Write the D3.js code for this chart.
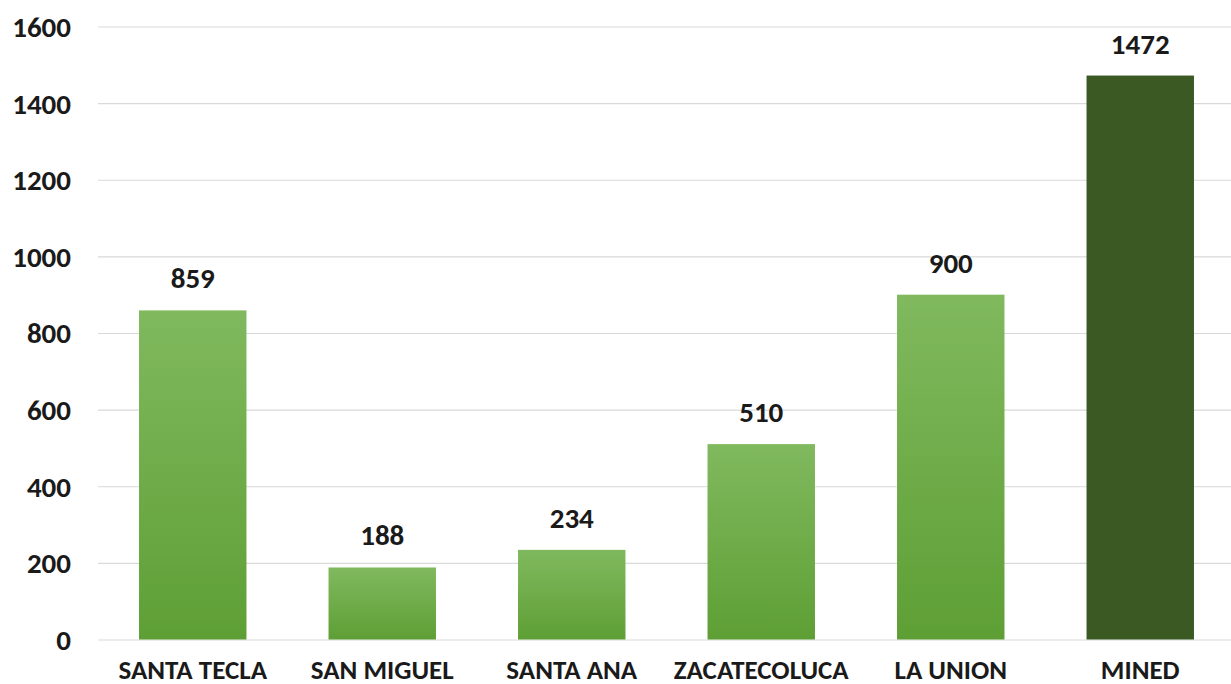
<!DOCTYPE html>
<html>
<head>
<meta charset="utf-8">
<script src="https://cdn.jsdelivr.net/npm/d3@7"></script>
<style>
  body { margin: 0; background: #fff; }
  svg { display: block; }
</style>
</head>
<body>
<div id="chart"></div>
<script>
// data
var sedes = ["SANTA TECLA", "SAN MIGUEL", "SANTA ANA", "ZACATECOLUCA", "LA UNION", "MINED"];
var totales = [859, 188, 234, 510, 900, 1472];
var yTicks = [0, 200, 400, 600, 800, 1000, 1200, 1400, 1600];

var W = 1231, H = 684;
var margin = { top: 26.5, right: -4, bottom: 44.5, left: 98 };
var width = W - margin.left - margin.right,
    height = H - margin.top - margin.bottom;

var svg = d3.select("#chart")
    .append("svg")
    .attr("width", W)
    .attr("height", H);

var defs = svg.append("defs");
var grad = defs.append("linearGradient")
    .attr("id", "barGrad")
    .attr("x1", 0).attr("y1", 0).attr("x2", 0).attr("y2", 1);
grad.append("stop").attr("offset", "0%").attr("stop-color", "#80b95e");
grad.append("stop").attr("offset", "100%").attr("stop-color", "#5e9f35");

var g = svg.append("g")
    .attr("transform", "translate(" + margin.left + "," + margin.top + ")");

var x = d3.scaleBand()
    .domain(sedes)
    .range([0, width])
    .padding(0);

var y = d3.scaleLinear()
    .domain([0, 1600])
    .range([height, 0]);

var numFont = "'Carlito', 'Liberation Sans', Arial, sans-serif";
var catFont = "'Carlito', 'Liberation Sans Narrow', 'Liberation Sans', Arial, sans-serif";

// gridlines
g.append("g")
    .attr("class", "grid")
    .call(d3.axisLeft(y).tickValues(yTicks).tickSize(-(W - margin.left)).tickFormat(""))
    .call(function (s) { s.select(".domain").remove(); })
    .selectAll("line")
    .attr("stroke", "#d9d9d9")
    .attr("stroke-width", 1.2);

// y axis labels
var yAxis = g.append("g")
    .call(d3.axisLeft(y).tickValues(yTicks).tickSize(0).tickPadding(27).tickFormat(d3.format("d")));
yAxis.select(".domain").remove();
yAxis.selectAll("text")
    .attr("fill", "#1a1a1a")
    .attr("dy", "0.34em")
    .style("font-family", numFont)
    .style("font-weight", "bold")
    .style("font-size", "29px");

// x axis labels
var xAxis = g.append("g")
    .attr("transform", "translate(0," + height + ")")
    .call(d3.axisBottom(x).tickSize(0));
xAxis.select(".domain").remove();
xAxis.selectAll("text")
    .attr("y", 39)
    .attr("dy", 0)
    .attr("fill", "#1a1a1a")
    .style("font-family", catFont)
    .style("font-weight", "bold")
    .style("font-size", "27px");

// bars
var barW = x.bandwidth() * 0.567;
var data = sedes.map(function (s, i) { return { sede: s, total: totales[i] }; });

g.selectAll(".bar")
    .data(data)
    .enter()
    .append("rect")
    .attr("class", "bar")
    .attr("x", function (d) { return x(d.sede) + (x.bandwidth() - barW) / 2; })
    .attr("y", function (d) { return y(d.total); })
    .attr("width", barW)
    .attr("height", function (d) { return height - y(d.total); })
    .attr("fill", function (d) { return d.sede === "MINED" ? "#3b5a23" : "url(#barGrad)"; });

// value labels
g.selectAll(".lbl")
    .data(data)
    .enter()
    .append("text")
    .attr("class", "lbl")
    .attr("x", function (d) { return x(d.sede) + x.bandwidth() / 2; })
    .attr("y", function (d) { return y(d.total) - 22; })
    .attr("text-anchor", "middle")
    .attr("fill", "#1a1a1a")
    .style("font-family", numFont)
    .style("font-weight", "bold")
    .style("font-size", "29px")
    .text(function (d) { return d.total; });
</script>
</body>
</html>
